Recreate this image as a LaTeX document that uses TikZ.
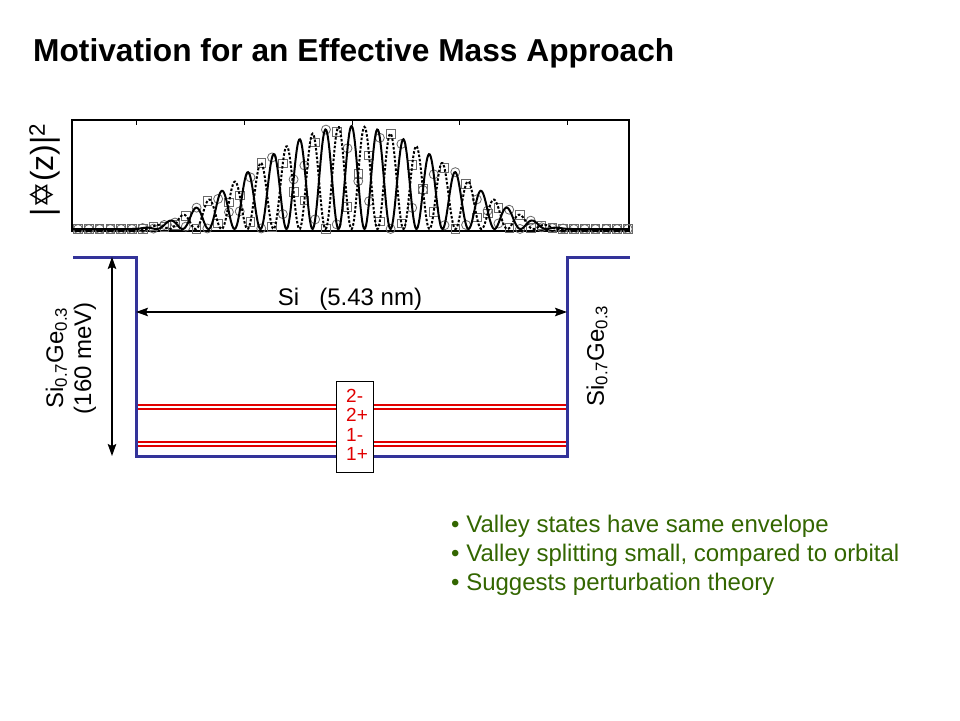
\documentclass[tikz,border=0pt]{standalone}
\usepackage{fontspec}
\setmainfont{Liberation Sans}
\newfontfamily\dejavu{DejaVu Sans}
\usetikzlibrary{arrows.meta,calc}
\definecolor{wellblue}{RGB}{51,51,153}
\definecolor{bulletgreen}{RGB}{51,102,0}
\definecolor{lvlred}{RGB}{225,0,0}
\definecolor{markgray}{RGB}{105,105,105}
\begin{document}
\begin{tikzpicture}[x=1pt,y=-1pt,
  declare function={env(\t)=(abs(\t-351.5)<222.5)*cos(((\t-351.5)/445)*180)^2;},
  wellline/.style={wellblue,line width=3pt},
  lvlline/.style={lvlred,line width=1.4pt},
  dimarrow/.style={black,line width=1.5pt,{Stealth[length=12pt,width=8.5pt,inset=2pt]}-{Stealth[length=12pt,width=8.5pt,inset=2pt]}},
  curvesolid/.style={black,line width=2pt},
  curvedash/.style={black,line width=2pt,dash pattern=on 2.5pt off 1.8pt},
  markstyle/.style={markgray,line width=0.8pt},
  body/.style={font=\fontsize{24}{28}\selectfont,inner sep=0pt},
  lvltext/.style={lvlred,font=\fontsize{19}{20}\selectfont,inner sep=0pt,anchor=base west},
  bullet/.style={bulletgreen,font=\fontsize{24}{28}\selectfont,inner sep=0pt,anchor=base west}]
\useasboundingbox[fill=white] (0,0) rectangle (960,720);

% title
\node[anchor=base west,inner sep=0pt,font=\fontsize{31.7}{38}\selectfont\bfseries] (title) at (33,61) {Motivation for an Effective Mass Approach};

% plot frame
\draw[black,line width=1.2pt] (72,120) rectangle (629,231);
\foreach \t in {136,244,352,459.5,567} \draw[black,line width=1pt] (\t,120) -- (\t,125);
\node[rotate=90,font=\fontsize{32}{38}\selectfont,inner sep=0pt] (ylab) at (45,170) {|{\dejavu ✡}(z)|\textsuperscript{2}};

% markers
\foreach \n in {0,...,51}{
  \pgfmathsetmacro\xn{78+10.78*\n}
  \pgfmathsetmacro\ea{env(\xn)}
  \pgfmathsetmacro\cs{cos(((\xn-351.5)/26)*180)^2}
  \pgfmathsetmacro\yc{229-103*\ea*\cs}
  \pgfmathsetmacro\ys{229-103*\ea*(1-\cs)}
  \draw[markstyle] (\xn,\yc) circle[radius=4.5];
  \draw[markstyle] (\xn-4.3,\ys-4.3) rectangle (\xn+4.3,\ys+4.3);
}
% curves
\draw[curvedash] plot[domain=72:629,samples=700] (\x,{229-103*env(\x)*sin(((\x-351.5)/26)*180)^2});
\draw[curvesolid] plot[domain=72:629,samples=700] (\x,{229-103*env(\x)*cos(((\x-351.5)/26)*180)^2});

% well
\coordinate (lt) at (73,257);
\coordinate (lwt) at (136,257);
\coordinate (lwb) at (136,456);
\coordinate (rwb) at (567,456);
\coordinate (rwt) at (567,257);
\coordinate (rt) at (630,257);
\coordinate (va) at (112,257);
\coordinate (vb) at (112,456);
\coordinate (ha) at (136,312);
\coordinate (hb) at (567,312);

% levels
\foreach \y in {405,409,442,446} \draw[lvlline] (136,\y) -- (567,\y);
\draw[wellline] (lt) -- (lwt) -- (lwb) -- (rwb) -- (rwt) -- (rt);

\node[draw=black,fill=white,line width=0.9pt,minimum width=37pt,minimum height=91pt,inner sep=0pt] (lvlbox) at (354.5,426.5) {};
\node[lvltext] (l2m) at (346,402) {2-};
\node[lvltext] (l2p) at (346,421.5) {2+};
\node[lvltext] (l1m) at (346,441) {1-};
\node[lvltext] (l1p) at (346,460.5) {1+};

% dimension arrows
\draw[dimarrow] (va) -- (vb);
\draw[dimarrow] (ha) -- (hb);
\node[body,anchor=base] (silab) at (350,305) {Si\ \ \ (5.43 nm)};

\node[body,rotate=90,align=center] (leftlab) at (71,358) {Si\textsubscript{0.7}Ge\textsubscript{0.3}\\(160 meV)};
\node[body,rotate=90] (rightlab) at (597,356) {Si\textsubscript{0.7}Ge\textsubscript{0.3}};

% bullets
\node[bullet] (b1) at (451,532) {• Valley states have same envelope};
\node[bullet] (b2) at (451,561) {• Valley splitting small, compared to orbital};
\node[bullet] (b3) at (451,590) {• Suggests perturbation theory};
\end{tikzpicture}
\end{document}
